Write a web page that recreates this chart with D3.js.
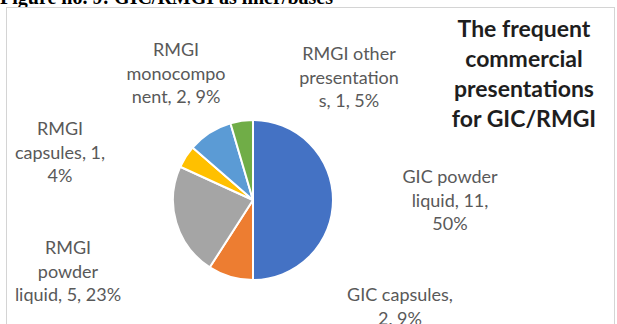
<!DOCTYPE html>
<html>
<head>
<meta charset="utf-8">
<script src="https://cdn.jsdelivr.net/npm/d3@7"></script>
<style>
  html, body { margin: 0; padding: 0; background: #fff; overflow: hidden; }
  svg { display: block; }
</style>
</head>
<body>
<svg id="chart" width="617" height="324"></svg>
<script>
// Commercial presentations of GIC / RMGI used as liner/bases
const categories = [
  "GIC powder liquid",
  "GIC capsules",
  "RMGI powder liquid",
  "RMGI capsules",
  "RMGI monocomponent",
  "RMGI other presentations"
];
const counts = [11, 2, 5, 1, 2, 1];
const percents = [50, 9, 23, 4, 9, 5];
const sliceColors = ["#4472C4", "#ED7D31", "#A5A5A5", "#FFC000", "#5B9BD5", "#70AD47"];

// Data label text, wrapped the way the labels are shown
const labelLines = [
  ["GIC powder", "liquid, 11,", "50%"],
  ["GIC capsules,", "2, 9%"],
  ["RMGI", "powder", "liquid, 5, 23%"],
  ["RMGI", "capsules, 1,", "4%"],
  ["RMGI", "monocompo", "nent, 2, 9%"],
  ["RMGI other", "presentation", "s, 1, 5%"]
];
const titleLines = ["The frequent", "commercial", "presentations", "for GIC/RMGI"];
const caption = "Figure no. 9: GIC/RMGI as liner/bases";

// Layout
const W = 617, H = 324;
const pieCenter = [253, 200];
const pieRadius = 80;
// label anchor: centre x, centre y of first line
const labelAnchors = [[450, 176], [400, 294], [68, 247], [60, 128], [176, 49], [349, 53]];
const labelLineHeight = 23.5;
const titleAnchor = [524, 28];
const titleLineHeight = 30;

const svg = d3.select("#chart");

// figure caption (partly above the top edge)
svg.append("text")
  .attr("x", 0).attr("y", 4)
  .attr("font-family", "Liberation Serif, serif")
  .attr("font-weight", "bold")
  .attr("font-size", 20)
  .attr("fill", "#000")
  .text(caption);

// chart area frame
svg.append("rect")
  .attr("x", 6.5).attr("y", 7.5)
  .attr("width", 608).attr("height", 330)
  .attr("fill", "#fff")
  .attr("stroke", "#d4d4d4")
  .attr("stroke-width", 1);

// pie
const pie = d3.pie().sort(null).value(d => d);
const arc = d3.arc().innerRadius(0).outerRadius(pieRadius);
const g = svg.append("g").attr("transform", `translate(${pieCenter[0]},${pieCenter[1]})`);
g.selectAll("path")
  .data(pie(counts))
  .join("path")
  .attr("d", arc)
  .attr("fill", (d, i) => sliceColors[i])
  .attr("stroke", "#fff")
  .attr("stroke-width", 2)
  .attr("stroke-linejoin", "round");

// data labels
const labels = svg.append("g")
  .attr("font-family", "Lato, sans-serif")
  .attr("font-size", 18)
  .attr("fill", "#595959")
  .attr("text-anchor", "middle");
labelLines.forEach((lines, i) => {
  const t = labels.append("text").attr("dominant-baseline", "central");
  lines.forEach((line, j) => {
    t.append("tspan")
      .attr("x", labelAnchors[i][0])
      .attr("y", labelAnchors[i][1] + j * labelLineHeight)
      .text(line);
  });
});

// chart title
const title = svg.append("text")
  .attr("font-family", "Lato, sans-serif")
  .attr("font-weight", "bold")
  .attr("font-size", 23)
  .attr("fill", "#1e1e1e")
  .attr("text-anchor", "middle")
  .attr("dominant-baseline", "central");
titleLines.forEach((line, j) => {
  title.append("tspan")
    .attr("x", titleAnchor[0])
    .attr("y", titleAnchor[1] + j * titleLineHeight)
    .text(line);
});
</script>
</body>
</html>
